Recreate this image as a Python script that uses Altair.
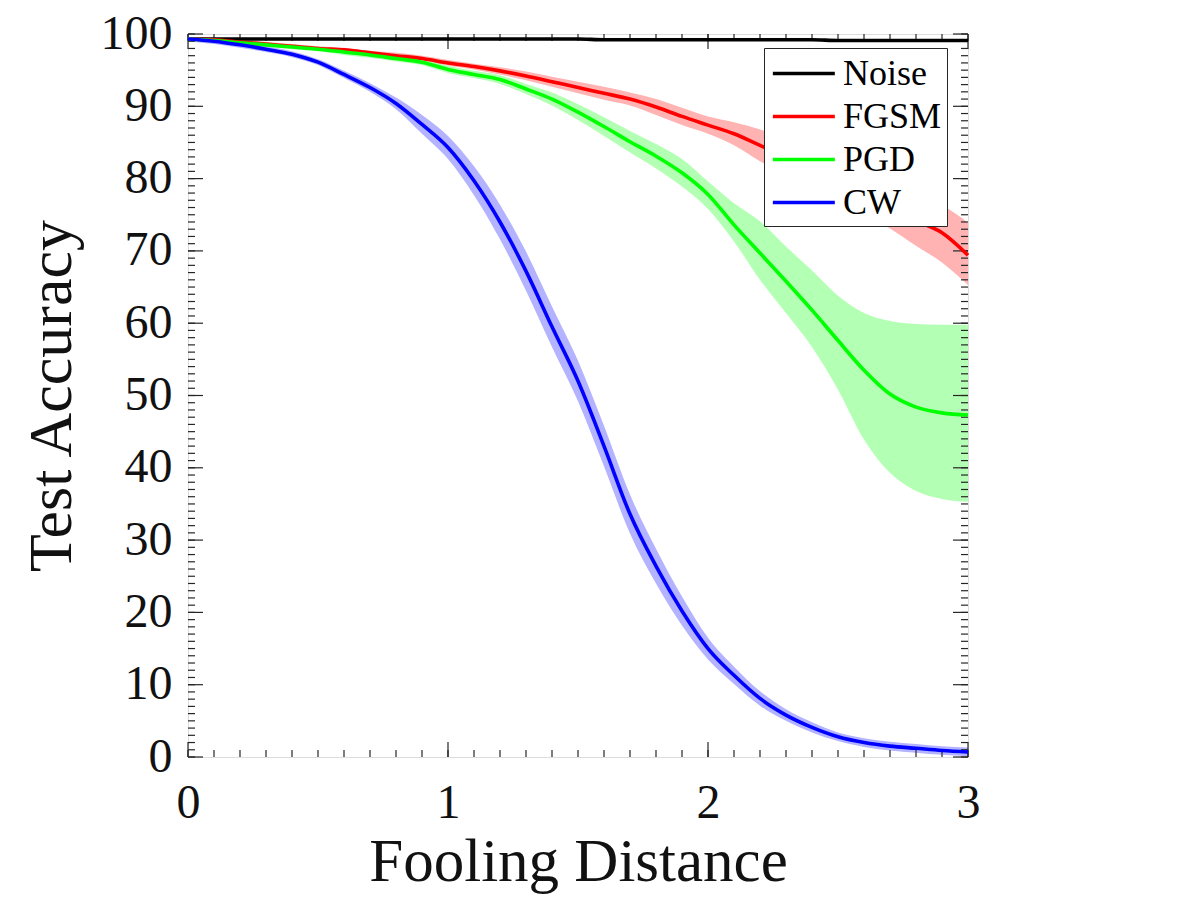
import altair as alt
import pandas as pd

# ---------------- data ----------------
distance = [0.0, 0.1, 0.2, 0.3, 0.4, 0.5, 0.6, 0.7, 0.8, 0.9,
            1.0, 1.1, 1.2, 1.3, 1.4, 1.5, 1.6, 1.7, 1.8, 1.9,
            2.0, 2.1, 2.2, 2.3, 2.4, 2.5, 2.6, 2.7, 2.8, 2.9, 3.0]

series_names = ["Noise", "FGSM", "PGD", "CW"]
line_colors = ["#000000", "#ff0000", "#00ff00", "#0000ff"]
band_colors = ["#b3b3b3", "#ffb3b3", "#b3ffb3", "#b3b3ff"]

noise_mean = [99.3, 99.3, 99.3, 99.3, 99.3, 99.3, 99.3, 99.3, 99.3, 99.3,
              99.3, 99.3, 99.3, 99.3, 99.3, 99.3, 99.2, 99.2, 99.2, 99.2,
              99.2, 99.2, 99.2, 99.2, 99.2, 99.1, 99.1, 99.1, 99.1, 99.1, 99.1]
noise_lo = [99.2, 99.2, 99.2, 99.2, 99.2, 99.2, 99.2, 99.2, 99.2, 99.2,
            99.2, 99.2, 99.2, 99.2, 99.2, 99.2, 99.1, 99.1, 99.1, 99.1,
            99.1, 99.1, 99.1, 99.1, 99.1, 99.0, 99.0, 99.0, 99.0, 99.0, 99.0]
noise_hi = [99.4, 99.4, 99.4, 99.4, 99.4, 99.4, 99.4, 99.4, 99.4, 99.4,
            99.4, 99.4, 99.4, 99.4, 99.4, 99.4, 99.3, 99.3, 99.3, 99.3,
            99.3, 99.3, 99.3, 99.3, 99.3, 99.2, 99.2, 99.2, 99.2, 99.2, 99.2]

fgsm_mean = [99.3, 99.2, 98.9, 98.6, 98.3, 98.0, 97.8, 97.4, 97.0, 96.6,
             96.0, 95.5, 94.9, 94.2, 93.4, 92.6, 91.8, 91.0, 89.9, 88.6,
             87.4, 86.2, 84.6, 83.0, 81.5, 79.8, 78.0, 76.2, 74.2, 72.5, 69.4]
fgsm_lo = [99.1, 99.0, 98.6, 98.3, 98.0, 97.7, 97.5, 97.1, 96.6, 96.2,
           95.6, 95.1, 94.4, 93.6, 92.7, 91.8, 90.9, 90.1, 88.8, 87.4,
           86.2, 84.6, 82.4, 80.6, 79.0, 77.1, 75.2, 73.1, 70.7, 68.4, 65.3]
fgsm_hi = [99.5, 99.4, 99.2, 98.9, 98.6, 98.3, 98.1, 97.7, 97.4, 97.0,
           96.4, 95.9, 95.4, 94.8, 94.1, 93.4, 92.7, 91.9, 91.0, 89.8,
           88.6, 87.8, 86.8, 85.4, 84.0, 82.5, 80.8, 79.3, 77.7, 76.3, 73.9]

pgd_mean = [99.3, 99.1, 98.8, 98.5, 98.2, 97.9, 97.5, 97.1, 96.6, 96.1,
            95.1, 94.4, 93.7, 92.4, 91.0, 89.2, 87.2, 85.1, 83.1, 80.8,
            77.8, 73.6, 69.7, 65.8, 61.8, 57.6, 53.5, 50.2, 48.4, 47.6, 47.3]
pgd_lo = [99.1, 98.9, 98.5, 98.2, 97.9, 97.6, 97.1, 96.7, 96.2, 95.7,
          94.6, 93.9, 93.1, 91.7, 90.1, 88.1, 85.9, 83.6, 81.4, 78.9,
          75.8, 71.3, 66.0, 61.4, 56.7, 50.8, 43.9, 39.3, 36.8, 35.7, 35.3]
pgd_hi = [99.5, 99.4, 99.1, 98.8, 98.5, 98.2, 97.9, 97.5, 97.0, 96.5,
          95.6, 94.9, 94.3, 93.1, 91.9, 90.3, 88.5, 86.6, 84.8, 82.7,
          79.6, 76.6, 74.1, 70.6, 67.3, 63.8, 61.4, 60.3, 59.9, 59.8, 59.8]

cw_mean = [99.3, 99.0, 98.5, 97.9, 97.2, 96.1, 94.4, 92.6, 90.4, 87.5,
           84.3, 79.7, 74.0, 67.2, 59.5, 52.0, 43.0, 33.6, 26.4, 20.2,
           15.0, 11.3, 8.1, 5.8, 4.1, 2.8, 2.0, 1.5, 1.2, 0.9, 0.7]
cw_lo = [99.0, 98.6, 98.1, 97.5, 96.8, 95.7, 93.9, 92.0, 89.6, 86.2,
         82.7, 77.7, 71.6, 64.5, 56.7, 49.2, 40.2, 30.9, 24.0, 18.2,
         13.5, 10.1, 7.1, 5.0, 3.4, 2.2, 1.4, 0.9, 0.6, 0.3, 0.1]
cw_hi = [99.6, 99.4, 98.9, 98.3, 97.6, 96.5, 94.9, 93.2, 91.2, 88.8,
         85.9, 81.7, 76.4, 69.9, 62.3, 54.8, 45.8, 36.3, 28.8, 22.2,
         16.5, 12.5, 9.1, 6.6, 4.8, 3.4, 2.6, 2.1, 1.8, 1.5, 1.3]

x_major = [0, 1, 2, 3]
x_minor = distance
y_major = [0, 10, 20, 30, 40, 50, 60, 70, 80, 90, 100]
y_minor = list(range(0, 101))

# ---------------- table ----------------
rows = []
for name, m, lo, hi in zip(series_names,
                           [noise_mean, fgsm_mean, pgd_mean, cw_mean],
                           [noise_lo, fgsm_lo, pgd_lo, cw_lo],
                           [noise_hi, fgsm_hi, pgd_hi, cw_hi]):
    for d, a, b, c in zip(distance, m, lo, hi):
        rows.append({"series": name, "d": d, "acc": a, "lo": b, "hi": c})
df = pd.DataFrame(rows)

W, H = 780, 723
FONT = "'Liberation Serif', 'Times New Roman', serif"
AX = "#262626"

xs = alt.Scale(domain=[0, 3], nice=False, zero=False)
ys = alt.Scale(domain=[0, 100], nice=False)

x_axis = alt.Axis(values=x_major, format="d", title="Fooling Distance",
                  labelFontSize=48, titleFontSize=61, labelFont=FONT, titleFont=FONT,
                  labelColor="#111111", titleColor="#111111", titleFontWeight="normal",
                  ticks=False, tickSize=0, domain=False, grid=False,
                  labelPadding=22, labelFlush=False, titleY=123,
                  titleBaseline="alphabetic")
y_axis = alt.Axis(values=y_major, format="d", title="Test Accuracy",
                  labelFontSize=48, titleFontSize=62, labelFont=FONT, titleFont=FONT,
                  labelColor="#111111", titleColor="#111111", titleFontWeight="normal",
                  ticks=False, tickSize=0, domain=False, grid=False,
                  labelPadding=16, labelFlush=False, titleX=-118,
                  titleBaseline="alphabetic")

band_layers = []
for i, (name, col) in enumerate(zip(series_names, band_colors)):
    if i == 0:
        xenc = alt.X("d:Q", scale=xs, axis=x_axis)
        yenc = alt.Y("lo:Q", scale=ys, axis=y_axis)
    else:
        xenc = alt.X("d:Q", scale=xs)
        yenc = alt.Y("lo:Q", scale=ys)
    band_layers.append(
        alt.Chart(df).transform_filter(alt.datum.series == name)
        .mark_area(interpolate="monotone", opacity=1, color=col)
        .encode(x=xenc, y=yenc, y2="hi:Q")
    )

lines = alt.Chart(df).mark_line(interpolate="monotone", strokeWidth=3.6).encode(
    x=alt.X("d:Q", scale=xs),
    y=alt.Y("acc:Q", scale=ys),
    color=alt.Color("series:N", sort=series_names,
                    scale=alt.Scale(domain=series_names, range=line_colors),
                    legend=alt.Legend(title=None, orient="none", legendX=576, legendY=14,
                                      direction="vertical",
                                      symbolType="M-0.9,0L2.45,0", symbolSize=1369,
                                      symbolStrokeWidth=3.6, labelFont=FONT, labelFontSize=36,
                                      labelColor="#000000", labelOffset=33, padding=5,
                                      rowPadding=4, strokeColor=AX, fillColor="white")),
)


def xticks(values, length, top):
    if top:
        yy, yy2 = alt.value(0), alt.value(length)
    else:
        yy, yy2 = alt.value(H), alt.value(H - length)
    return alt.Chart(pd.DataFrame({"v": values})).mark_rule(color=AX, strokeWidth=1.2).encode(
        x=alt.X("v:Q", scale=xs), y=yy, y2=yy2)


def yticks(values, length, right):
    if right:
        xx, xx2 = alt.value(W), alt.value(W - length)
    else:
        xx, xx2 = alt.value(0), alt.value(length)
    return alt.Chart(pd.DataFrame({"v": values})).mark_rule(color=AX, strokeWidth=1.2).encode(
        y=alt.Y("v:Q", scale=ys), x=xx, x2=xx2)


ticks = [
    xticks(x_minor, 7, False), xticks(x_minor, 7, True),
    xticks(x_major, 15, False), xticks(x_major, 15, True),
    yticks(y_minor, 7, False), yticks(y_minor, 7, True),
    yticks(y_major, 15, False), yticks(y_major, 15, True),
]

chart = alt.layer(*band_layers, *ticks, lines).properties(
    width=W, height=H,
    autosize=alt.AutoSizeParams(type="none"),
    padding={"left": 180, "top": 26, "right": 60, "bottom": 150},
).configure_view(stroke=AX, strokeWidth=1.6).configure(font=FONT, background="white")

chart.save("out.html", embed_options={"renderer": "svg", "actions": False})
